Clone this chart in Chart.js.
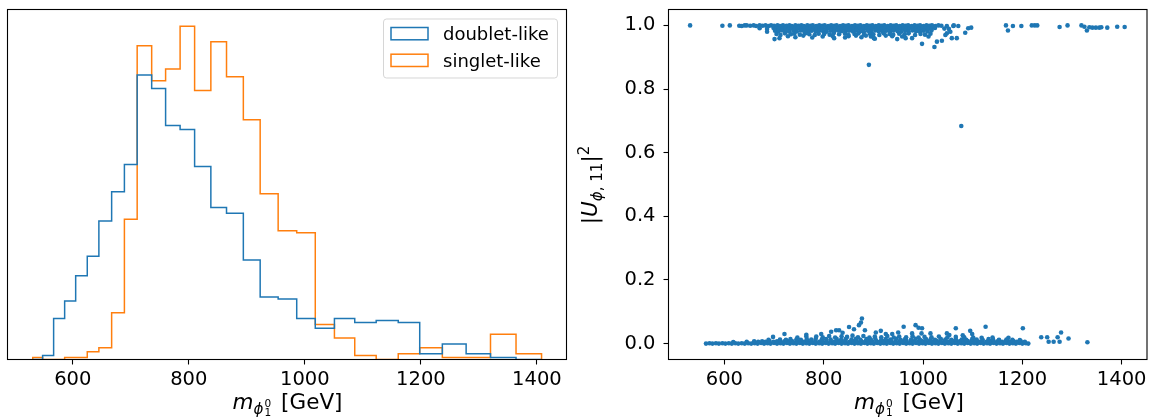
<!DOCTYPE html>
<html>
<head>
<meta charset="utf-8">
<script src="https://cdn.jsdelivr.net/npm/chart.js@4.4.0/dist/chart.umd.min.js"></script>
<style>
  body { margin: 0; background: #fff; font-family: "DejaVu Sans", sans-serif; color: #000; }
  #wrap { position: relative; width: 1151px; height: 418px; overflow: hidden; }
  canvas { position: absolute; top: 0; }
  #histCanvas { left: 0; }
  #scanCanvas { left: 575px; }
  .xlabel { position: absolute; top: 389px; font-size: 21.5px; line-height: 26px; text-align: center; white-space: nowrap; }
  .ylabel { position: absolute; font-size: 21.5px; line-height: 26px; white-space: nowrap; transform: rotate(-90deg); transform-origin: center; text-align: center; }
  .it { font-style: italic; }
  .sub1 { font-size: 70%; position: relative; top: 0.3em; }
  .stack { display: inline-block; font-size: 70%; line-height: 0.9; vertical-align: -0.25em; margin-left: 1px; }
  .stack span { display: block; }
  .sup { font-size: 70%; position: relative; top: -0.5em; }
  .unit { margin-left: 10px; }
</style>
</head>
<body>
<div id="wrap">
  <canvas id="histCanvas" width="575" height="418"></canvas>
  <canvas id="scanCanvas" width="576" height="418"></canvas>
  <div class="xlabel" style="left:0; width:575px;"><span class="it">m</span><span class="sub1"><span class="it">ϕ</span><span class="stack"><span>0</span><span>1</span></span></span><span class="unit">[GeV]</span></div>
  <div class="xlabel" style="left:668px; width:482px;"><span class="it">m</span><span class="sub1"><span class="it">ϕ</span><span class="stack"><span>0</span><span>1</span></span></span><span class="unit">[GeV]</span></div>
  <div class="ylabel" style="left:531px; top:171px; width:120px;">|<span class="it">U</span><span class="sub1"><span class="it">ϕ</span>, 11</span>|<span class="sup">2</span></div>
</div>
<script>
// Histogram bins (GeV) shared by both mass distributions
const binEdges = [531, 548, 567, 586, 605, 625, 645, 667, 689, 711, 736, 760, 785, 810, 838,
  865, 894, 923, 954, 986, 1018, 1051, 1086, 1123, 1161, 1198, 1237, 1278, 1320, 1364, 1408];
const doubletCounts = [0, 2, 21, 30, 43, 53, 71, 86, 100, 146, 139, 120, 118, 99, 78,
  75, 51, 32, 31, 21, 16, 21, 19, 20, 19, 3, 8, 3, 1, 0];
const singletCounts = [1, 0, 0, 1, 1, 4, 6, 24, 72, 161, 143, 149, 171, 138, 163,
  145, 123, 85, 66, 65, 18, 11, 2, 0, 3, 6, 1, 1, 13, 3];
const seriesNames = ['doublet-like', 'singlet-like'];

const massTicks = [600, 800, 1000, 1200, 1400];
const mixTicks = [0, 0.2, 0.4, 0.6, 0.8, 1.0];

// Scan points: [m (GeV), |U_phi,11|^2], points near 1
const pointsUpper = [
  [531,1.000],[596,0.999],[611,1.000],[630,0.999],[635,0.998],[641,1.000],
  [645,1.000],[652,0.999],[659,1.000],[664,0.998],[671,1.000],[677,0.999],[683,1.000],[689,0.998],[694,1.000],[700,0.999],
  [707,1.000],[712,0.998],[718,1.000],[725,0.999],[731,1.000],[736,0.998],[743,1.000],[749,0.999],[755,1.000],[760,0.998],
  [767,1.000],[773,0.999],[778,1.000],[785,0.998],[791,1.000],[797,0.999],[802,1.000],[809,0.998],[815,1.000],[821,0.999],
  [826,1.000],[833,0.998],[839,1.000],[845,0.999],[850,1.000],[857,0.998],[863,1.000],[869,0.999],[874,1.000],[881,0.998],
  [887,1.000],[893,0.999],[898,1.000],[905,0.998],[911,1.000],[917,0.999],[922,1.000],[929,0.998],[935,1.000],[941,0.999],
  [946,1.000],[953,0.998],[959,1.000],[965,0.999],[970,1.000],[977,0.998],[983,1.000],[989,0.999],[994,1.000],[1001,0.998],
  [1007,1.000],[1013,0.999],[1018,1.000],[1025,0.998],[1031,1.000],[1037,0.999],
  [671,0.991],[686,0.989],[699,0.992],[704,0.990],[711,0.991],[717,0.989],[723,0.992],[730,0.990],[736,0.991],[742,0.989],
  [748,0.992],[755,0.990],[761,0.991],[767,0.989],[773,0.992],[780,0.990],[786,0.991],[792,0.989],[798,0.992],[805,0.990],
  [811,0.991],[817,0.989],[823,0.992],[830,0.990],[836,0.991],[842,0.989],[848,0.992],[855,0.990],[861,0.991],[867,0.989],
  [873,0.992],[880,0.990],[886,0.991],[892,0.989],[898,0.992],[905,0.990],[911,0.991],[917,0.989],[923,0.992],[930,0.990],
  [936,0.991],[942,0.989],[948,0.992],[955,0.990],[961,0.991],[967,0.989],[973,0.992],[980,0.990],[986,0.991],[992,0.989],
  [998,0.992],[1005,0.990],[1011,0.991],[1017,0.989],[1024,0.992],
  [686,0.980],[702,0.983],[709,0.981],[716,0.984],[724,0.982],[731,0.980],[739,0.983],[746,0.981],[754,0.984],[761,0.982],
  [769,0.980],[776,0.983],[784,0.981],[791,0.984],[799,0.982],[806,0.980],[814,0.983],[821,0.981],[829,0.984],[836,0.982],
  [844,0.980],[851,0.983],[859,0.981],[866,0.984],[874,0.982],[881,0.980],[889,0.983],[896,0.981],[904,0.984],[911,0.982],
  [919,0.980],[926,0.983],[934,0.981],[941,0.984],[949,0.982],[956,0.980],[964,0.983],[971,0.981],[979,0.984],[986,0.982],
  [994,0.980],[1001,0.983],[1009,0.981],[1017,0.984],
  [705,0.973],[713,0.970],[722,0.975],[734,0.972],[741,0.974],[752,0.971],[763,0.975],[771,0.972],[782,0.970],[790,0.974],
  [801,0.973],[812,0.971],[820,0.975],[831,0.972],[843,0.974],[850,0.970],[862,0.973],[870,0.975],[881,0.971],[893,0.974],
  [900,0.972],[912,0.970],[921,0.975],[933,0.973],[940,0.971],[952,0.974],[963,0.972],[971,0.975],[984,0.970],[995,0.973],
  [1004,0.971],[1015,0.974],
  [701,0.957],[711,0.960],[728,0.966],[743,0.963],[759,0.968],[777,0.962],[798,0.965],[818,0.967],[821,0.960],[843,0.962],
  [850,0.966],[865,0.968],[876,0.963],[885,0.968],[895,0.965],[901,0.960],[903,0.958],[925,0.968],[938,0.966],[948,0.957],
  [958,0.965],[965,0.960],[978,0.960],[998,0.942],[1011,0.965],[1023,0.932],[1028,0.949],[1038,0.952],[1043,0.990],[1045,0.970],
  [1048,0.975],[1048,0.998],[1052,0.989],[1055,0.980],[1058,0.960],[1061,0.998],[1062,1.000],[1068,0.960],[1071,0.998],[1085,0.977],
  [1091,0.991],[1097,0.993],[891,0.876],[1077,0.684],
  [1167,1.000],[1171,0.984],[1181,0.998],[1198,0.998],[1219,1.000],[1225,1.000],[1230,1.000],[1275,0.995],[1291,1.000],[1319,1.000],
  [1325,0.996],[1330,0.984],[1335,0.994],[1341,0.993],[1348,0.993],[1355,0.993],[1359,0.994],[1371,0.993],[1391,0.996],[1406,0.995]
];

// Scan points near 0
const pointsLower = [
  [563,0.000],[570,0.001],[576,0.000],[583,0.001],[589,0.000],[596,0.001],[602,0.000],[609,0.001],[615,0.000],[622,0.001],
  [628,0.000],[635,0.001],[641,0.000],[648,0.001],[654,0.000],[661,0.001],[667,0.000],[674,0.002],[680,0.000],[687,0.001],
  [693,0.000],[700,0.002],[706,0.000],[713,0.001],[719,0.000],[726,0.002],[732,0.000],[739,0.001],[745,0.000],[752,0.002],
  [758,0.000],[765,0.001],[771,0.000],[778,0.002],[784,0.000],[791,0.001],[797,0.000],[804,0.002],[810,0.000],[817,0.001],
  [823,0.000],[830,0.002],[836,0.000],[843,0.001],[849,0.000],[856,0.002],[862,0.000],[869,0.001],[875,0.000],[882,0.002],
  [888,0.000],[895,0.001],[901,0.000],[908,0.002],[914,0.000],[921,0.001],[927,0.000],[934,0.002],[940,0.000],[947,0.001],
  [953,0.000],[960,0.002],[966,0.000],[973,0.001],[979,0.000],[986,0.002],[992,0.000],[999,0.001],[1005,0.000],[1012,0.002],
  [1018,0.000],[1025,0.001],[1031,0.000],[1038,0.002],[1044,0.000],[1051,0.001],[1057,0.000],[1064,0.002],[1070,0.000],[1077,0.001],
  [1083,0.000],[1090,0.002],[1096,0.000],[1103,0.001],[1109,0.000],[1116,0.002],[1122,0.000],[1129,0.001],[1135,0.000],[1142,0.002],
  [1148,0.000],[1155,0.001],[1161,0.000],[1168,0.002],[1174,0.000],[1181,0.001],[1187,0.000],[1194,0.002],[1200,0.000],[1207,0.001],
  [1212,0.000],
  [618,0.005],[645,0.006],[660,0.007],[668,0.006],[676,0.007],[683,0.006],[691,0.008],[699,0.006],[706,0.007],[714,0.006],
  [722,0.008],[729,0.006],[737,0.007],[745,0.006],[752,0.008],[760,0.006],[768,0.007],[775,0.006],[783,0.008],[791,0.006],
  [798,0.007],[806,0.006],[814,0.008],[821,0.006],[829,0.007],[837,0.006],[844,0.008],[852,0.006],[860,0.007],[867,0.006],
  [875,0.008],[883,0.006],[890,0.007],[898,0.006],[906,0.008],[913,0.006],[921,0.007],[929,0.006],[936,0.008],[944,0.006],
  [952,0.007],[959,0.006],[967,0.008],[975,0.006],[982,0.007],[990,0.006],[998,0.008],[1005,0.006],[1013,0.007],[1021,0.006],
  [1028,0.008],[1036,0.006],[1044,0.007],[1051,0.006],[1059,0.008],[1067,0.006],[1074,0.007],[1082,0.006],[1090,0.008],[1097,0.006],
  [1105,0.007],[1113,0.006],[1120,0.008],[1128,0.006],[1136,0.007],[1143,0.006],[1151,0.008],[1159,0.006],[1166,0.007],[1174,0.006],
  [1182,0.008],[1189,0.006],[1197,0.007],[1205,0.006],
  [689,0.012],[712,0.013],[724,0.012],[733,0.014],[745,0.013],[754,0.012],[766,0.014],[775,0.013],[784,0.015],[796,0.012],
  [805,0.014],[814,0.013],[826,0.015],[835,0.012],[844,0.014],[856,0.013],[865,0.015],[874,0.012],[886,0.014],[895,0.013],
  [904,0.015],[916,0.012],[925,0.014],[934,0.013],[946,0.015],[955,0.012],[964,0.014],[976,0.013],[985,0.015],[994,0.012],
  [1006,0.014],[1015,0.013],[1024,0.012],[1036,0.014],[1045,0.013],[1057,0.012],[1066,0.014],[1078,0.013],[1087,0.012],[1099,0.014],
  [1108,0.013],[1120,0.012],[1132,0.014],[1141,0.013],[1153,0.012],[1168,0.013],[1180,0.012],[1195,0.011],
  [698,0.021],[747,0.019],[765,0.022],[785,0.022],[798,0.020],[811,0.024],[823,0.019],[836,0.023],[847,0.021],[858,0.025],
  [869,0.020],[880,0.024],[892,0.019],[903,0.022],[916,0.020],[928,0.024],[941,0.019],[952,0.022],[966,0.020],[979,0.023],
  [991,0.019],[1003,0.021],[1017,0.020],[1032,0.022],[1049,0.019],[1066,0.021],[1083,0.020],[1101,0.019],[1118,0.018],[1140,0.019],
  [1172,0.018],
  [721,0.030],[765,0.028],[795,0.030],[815,0.037],[825,0.042],[831,0.042],[838,0.034],[851,0.052],[861,0.045],[871,0.058],
  [875,0.066],[877,0.079],[883,0.042],[905,0.035],[915,0.040],[925,0.030],[938,0.030],[950,0.035],[961,0.053],[978,0.032],
  [985,0.058],[991,0.050],[997,0.032],[998,0.048],[1015,0.032],[1048,0.032],[1053,0.027],[1066,0.048],[1080,0.026],[1095,0.040],
  [1099,0.030],[1126,0.053],[1201,0.048],[1238,0.020],[1250,0.020],[1253,0.006],[1263,0.006],[1271,0.020],[1275,0.006],[1278,0.035],
  [1293,0.016],[1331,0.004]
];

const BLUE = '#1f77b4';
const ORANGE = '#ff7f0e';
const MASS_MIN = 487.5;
const MASS_MAX = 1451;

Chart.defaults.font.family = '"DejaVu Sans", sans-serif';
Chart.defaults.color = '#000';

// Step outline: rise at the first edge, fall back to zero after the last one
function stepPoints(counts) {
  const pts = [{ x: binEdges[0], y: 0 }];
  counts.forEach((c, i) => pts.push({ x: binEdges[i + 1], y: c }));
  pts.push({ x: binEdges[binEdges.length - 1], y: 0 });
  return pts;
}

// Keep the plot box fixed: no extra room reserved for edge labels
function noEdgePadding(axis) {
  axis.paddingLeft = 0;
  axis.paddingRight = 0;
  axis.paddingTop = 0;
  axis.paddingBottom = 0;
}

function massAxis() {
  return {
    type: 'linear',
    min: MASS_MIN,
    max: MASS_MAX,
    afterBuildTicks: axis => { axis.ticks = massTicks.map(v => ({ value: v })); },
    afterFit: axis => { axis.height = 58.5; noEdgePadding(axis); },
    grid: { drawOnChartArea: false, drawTicks: true, tickLength: 5, tickWidth: 1.1, tickColor: '#000' },
    border: { display: false },
    ticks: { font: { size: 19.5 }, color: '#000', padding: 4, maxRotation: 0, autoSkip: false, callback: v => String(v) }
  };
}

// Black box round the plotting area
const axesFrame = {
  id: 'axesFrame',
  afterDatasetsDraw(chart) {
    const { ctx, chartArea: a } = chart;
    ctx.save();
    ctx.strokeStyle = '#000';
    ctx.lineWidth = 1.1;
    ctx.strokeRect(a.left, a.top, a.right - a.left, a.bottom - a.top);
    ctx.restore();
  }
};

// Framed legend in the upper right corner, outline patches
const histLegend = {
  id: 'histLegend',
  afterDraw(chart) {
    const { ctx, chartArea: a } = chart;
    const w = 174, h = 59;
    const x0 = a.right - 9 - w, y0 = a.top + 9.5;
    ctx.save();
    ctx.beginPath();
    ctx.roundRect(x0, y0, w, h, 3);
    ctx.fillStyle = 'rgba(255,255,255,0.8)';
    ctx.fill();
    ctx.strokeStyle = 'rgba(204,204,204,0.8)';
    ctx.lineWidth = 1;
    ctx.stroke();
    ctx.font = '18px "DejaVu Sans"';
    ctx.textBaseline = 'alphabetic';
    chart.data.datasets.forEach((ds, i) => {
      const py = y0 + 8.5 + i * 26.7;
      ctx.strokeStyle = ds.borderColor;
      ctx.lineWidth = 1.5;
      ctx.strokeRect(x0 + 7.5, py, 37, 12.3);
      ctx.fillStyle = '#000';
      ctx.fillText(ds.label, x0 + 59.5, py + 12.5);
    });
    ctx.restore();
  }
};

new Chart(document.getElementById('histCanvas'), {
  type: 'line',
  data: {
    datasets: [
      { label: seriesNames[0], data: stepPoints(doubletCounts), borderColor: BLUE },
      { label: seriesNames[1], data: stepPoints(singletCounts), borderColor: ORANGE }
    ].map(ds => Object.assign(ds, {
      stepped: 'after', borderWidth: 1.5, pointRadius: 0, fill: false, backgroundColor: 'transparent'
    }))
  },
  options: {
    responsive: false,
    animation: false,
    events: [],
    layout: { padding: { left: 7.5, right: 8.5, top: 9.5, bottom: 0 } },
    plugins: { legend: { display: false }, tooltip: { enabled: false } },
    scales: {
      x: massAxis(),
      y: { display: false, min: 0, max: Math.max(...singletCounts, ...doubletCounts) * 1.05 }
    }
  },
  plugins: [axesFrame, histLegend]
});

new Chart(document.getElementById('scanCanvas'), {
  type: 'scatter',
  data: {
    datasets: [{
      data: pointsUpper.concat(pointsLower).map(([m, u]) => ({ x: m, y: u })),
      pointRadius: 2.3,
      pointBorderWidth: 0,
      pointBackgroundColor: BLUE,
      borderColor: BLUE
    }]
  },
  options: {
    responsive: false,
    animation: false,
    events: [],
    layout: { padding: { left: 0, right: 1.5, top: 9.5, bottom: 0 } },
    plugins: { legend: { display: false }, tooltip: { enabled: false } },
    scales: {
      x: massAxis(),
      y: {
        type: 'linear',
        min: -0.05,
        max: 1.05,
        afterBuildTicks: axis => { axis.ticks = mixTicks.map(v => ({ value: v })); },
        afterFit: axis => { axis.width = 93.5; noEdgePadding(axis); },
        grid: { drawOnChartArea: false, drawTicks: true, tickLength: 5, tickWidth: 1.1, tickColor: '#000' },
        border: { display: false },
        ticks: { font: { size: 19.5 }, color: '#000', padding: 8, callback: v => v.toFixed(1) }
      }
    }
  },
  plugins: [axesFrame]
});
</script>
</body>
</html>
